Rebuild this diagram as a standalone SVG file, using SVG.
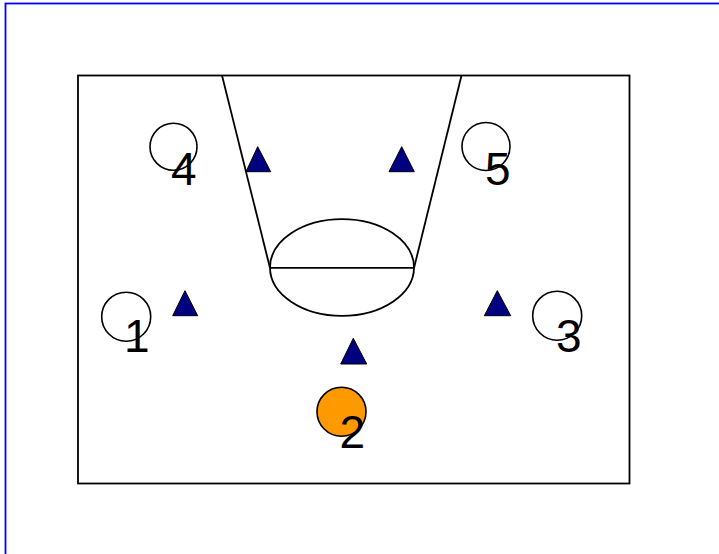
<svg xmlns="http://www.w3.org/2000/svg" width="719" height="554" viewBox="0 0 719 554">
<style>
.line{fill:none;stroke:#000;stroke-width:1.8}
.player{fill:#fff;stroke:#000;stroke-width:1.6}
.ball{fill:#ff9900;stroke:#000;stroke-width:1.6}
.def{fill:#000080;stroke:#000;stroke-width:1}
.num{font-family:"Liberation Sans",Arial,sans-serif;font-size:46px;fill:#000}
</style>
<rect x="0" y="0" width="719" height="554" fill="#fff"/>
<rect x="5.5" y="3.5" width="730" height="570" fill="none" stroke="#0000ff" stroke-width="1.8"/>
<g id="court">
<rect class="line" x="78" y="75.5" width="551.5" height="408"/>
<polyline class="line" points="222,75.5 270,268"/>
<polyline class="line" points="461.5,75.5 414,268"/>
<ellipse class="line" cx="342" cy="267.5" rx="72" ry="48.3"/>
<line class="line" x1="270" y1="267.8" x2="414" y2="267.8"/>
</g>
<g id="defenders">
<polygon class="def" points="257.7,146.7 246,171.7 270.7,171.7"/>
<polygon class="def" points="401.7,146.7 389,171.7 414.3,171.7"/>
<polygon class="def" points="185,290.7 172.7,315.7 197.7,315.7"/>
<polygon class="def" points="497.3,290.7 484.3,315.7 510.7,315.7"/>
<polygon class="def" points="353.3,338.3 340.7,364 366.7,364"/>
</g>
<g id="player4"><circle class="player" cx="173.5" cy="146.7" r="23.5"/><text class="num" x="171" y="185">4</text></g>
<g id="player5"><circle class="player" cx="486" cy="146.5" r="24"/><text class="num" x="485" y="185">5</text></g>
<g id="player1"><circle class="player" cx="126.2" cy="316.7" r="24.5"/><text class="num" x="124" y="352">1</text></g>
<g id="player3"><circle class="player" cx="557.2" cy="315.7" r="24.5"/><text class="num" x="556" y="351.7">3</text></g>
<g id="player2"><circle class="ball" cx="341.5" cy="411.7" r="24.5"/><text class="num" x="339.5" y="448">2</text></g>
</svg>
